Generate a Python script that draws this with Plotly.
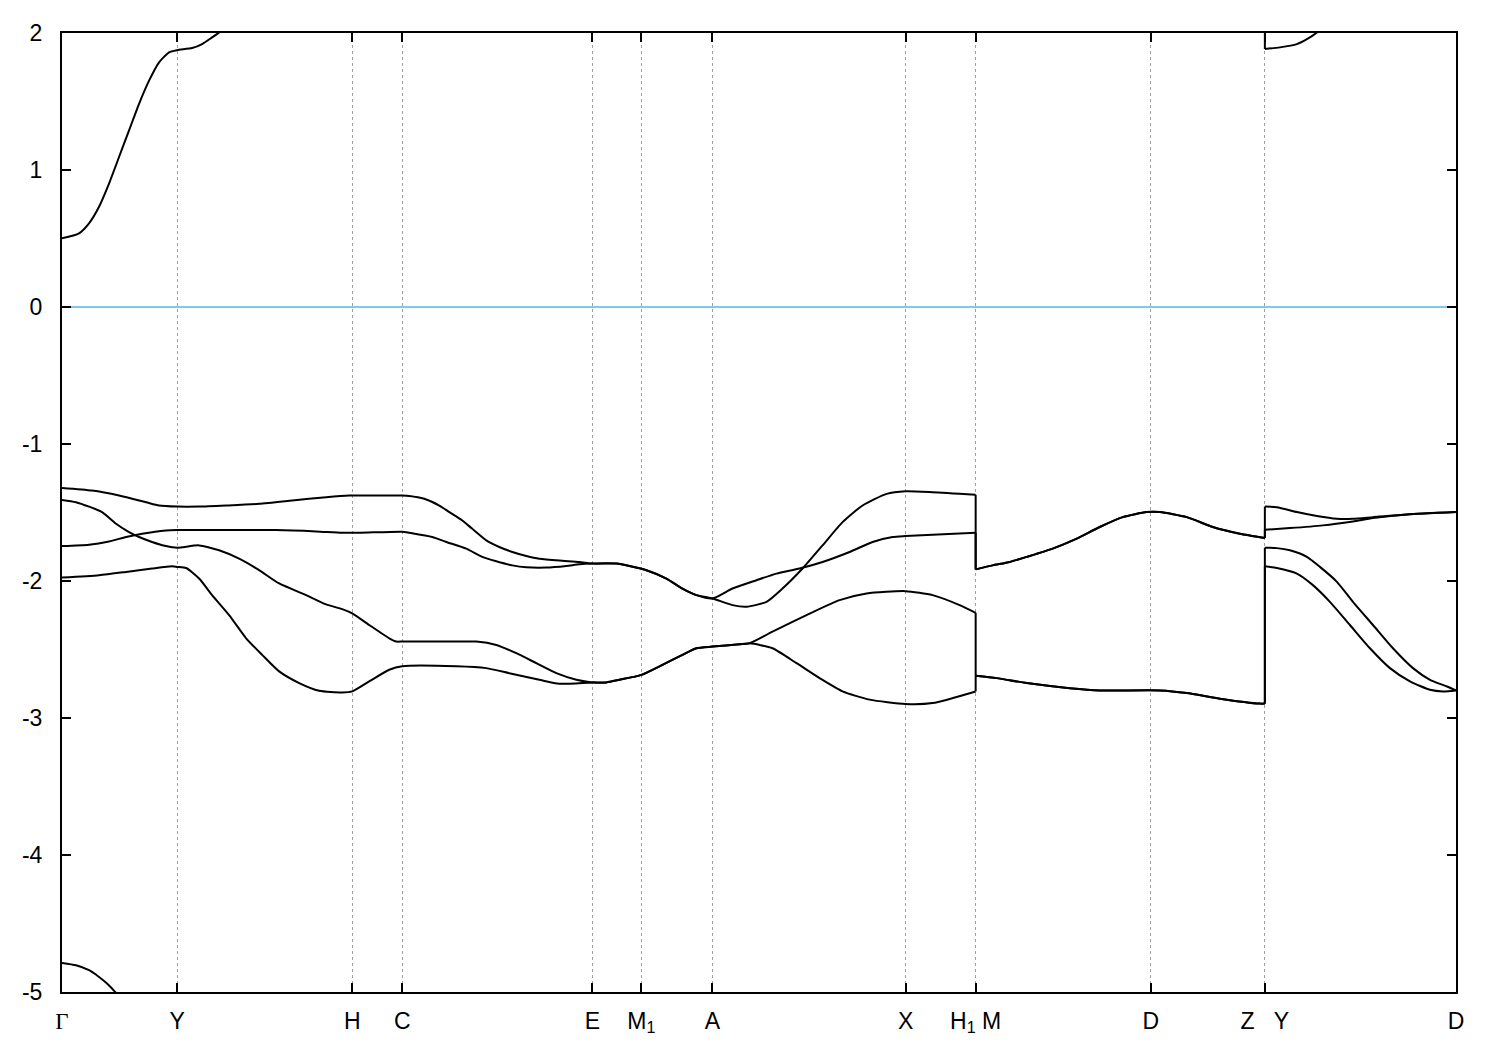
import plotly.graph_objects as go

# High-symmetry points (path coordinate, arbitrary units)
K_TICKS = [0.0, 0.115, 0.290, 0.340, 0.530, 0.579, 0.650, 0.843, 0.913, 1.088, 1.202, 1.393]
TICK_LABELS = ["<span style=\"font-family:'Liberation Serif'\">Γ</span>", "Y", "H", "C", "E",
               "M<sub>1</sub>", "A", "X", "H<sub>1</sub>\u00a0M", "D", "Z\u00a0\u00a0\u00a0Y", "D"]
E_FERMI = 0.0

# Shared pieces
EA_K_UP = [0.554, 0.567, 0.584, 0.604, 0.620, 0.634, 0.650]
EA_E_UP = [-1.873, -1.890, -1.921, -1.982, -2.055, -2.103, -2.128]
EA_K_LO = [0.544, 0.557, 0.579, 0.600, 0.620, 0.634, 0.650, 0.677]
EA_E_LO = [-2.740, -2.721, -2.685, -2.612, -2.539, -2.491, -2.479, -2.462]
MZ_K_UP = [0.913, 0.930, 0.947, 0.964, 0.990, 1.014, 1.037, 1.060, 1.084, 1.097, 1.124, 1.150, 1.177, 1.202]
MZ_E_UP = [-1.915, -1.886, -1.861, -1.824, -1.764, -1.691, -1.606, -1.534, -1.497, -1.497, -1.534, -1.606, -1.655, -1.686]
MZ_K_LO = [0.913, 0.934, 0.964, 1.007, 1.037, 1.097, 1.124, 1.157, 1.197, 1.202]
MZ_E_LO = [-2.692, -2.709, -2.745, -2.782, -2.799, -2.799, -2.818, -2.859, -2.895, -2.895]

# Band 1
B1_K = ([0.0, 0.030, 0.057, 0.084, 0.097, 0.115,
         0.137, 0.164, 0.197, 0.230, 0.264, 0.287, 0.317, 0.340,
         0.347, 0.362, 0.377, 0.387, 0.400, 0.410, 0.424, 0.437, 0.450, 0.464, 0.477, 0.497, 0.517, 0.530]
        + EA_K_UP +
        [0.670, 0.684, 0.704, 0.720, 0.740, 0.760, 0.780, 0.800, 0.824, 0.843, 0.870, 0.913]
        + MZ_K_UP +
        [1.202, 1.214, 1.234, 1.254, 1.274, 1.290, 1.310, 1.344, 1.393])
B1_E = ([-1.321, -1.340, -1.376, -1.425, -1.449, -1.457,
         -1.457, -1.449, -1.437, -1.413, -1.388, -1.376, -1.376, -1.376,
         -1.379, -1.400, -1.449, -1.497, -1.558, -1.619, -1.703, -1.752, -1.788, -1.817, -1.837, -1.851, -1.861, -1.873]
        + EA_E_UP +
        [-2.176, -2.188, -2.152, -2.055, -1.909, -1.740, -1.570, -1.449, -1.364, -1.345, -1.352, -1.371]
        + MZ_E_UP +
        [-1.457, -1.461, -1.497, -1.526, -1.546, -1.546, -1.534, -1.514, -1.497])

# Band 2
B2_K = ([0.0, 0.027, 0.047, 0.064, 0.080, 0.104, 0.115,
         0.167, 0.214, 0.254, 0.280, 0.297, 0.340,
         0.347, 0.370, 0.384, 0.404, 0.420, 0.434, 0.450, 0.464, 0.484, 0.504, 0.517, 0.530]
        + EA_K_UP +
        [0.670, 0.694, 0.714, 0.737, 0.760, 0.787, 0.810, 0.830, 0.843, 0.913]
        + MZ_K_UP +
        [1.202, 1.227, 1.260, 1.290, 1.310, 1.344, 1.393])
B2_E = ([-1.745, -1.735, -1.711, -1.679, -1.655, -1.631, -1.628,
         -1.628, -1.628, -1.638, -1.648, -1.648, -1.640,
         -1.648, -1.679, -1.715, -1.764, -1.824, -1.856, -1.886, -1.900, -1.902, -1.890, -1.878, -1.873]
        + EA_E_UP +
        [-2.055, -1.994, -1.946, -1.909, -1.861, -1.788, -1.715, -1.679, -1.672, -1.648]
        + MZ_E_UP +
        [-1.626, -1.614, -1.594, -1.565, -1.541, -1.514, -1.497])

# Band 3
B3_K = ([0.0, 0.014, 0.040, 0.054, 0.067, 0.077, 0.090, 0.104, 0.115,
         0.137, 0.157, 0.177, 0.197, 0.217, 0.244, 0.264, 0.280, 0.290, 0.307, 0.327, 0.334, 0.340,
         0.387, 0.414, 0.434, 0.454, 0.474, 0.494, 0.514, 0.530]
        + EA_K_LO +
        [0.687, 0.710, 0.744, 0.777, 0.804, 0.843, 0.870, 0.897, 0.913]
        + MZ_K_LO +
        [1.202, 1.214, 1.227, 1.244, 1.257, 1.274, 1.290, 1.310, 1.330, 1.350, 1.367, 1.384, 1.393])
B3_E = ([-1.408, -1.425, -1.497, -1.582, -1.643, -1.679, -1.715, -1.745, -1.757,
         -1.740, -1.776, -1.837, -1.921, -2.018, -2.103, -2.171, -2.205, -2.236, -2.321, -2.418, -2.442, -2.442,
         -2.442, -2.442, -2.467, -2.527, -2.600, -2.673, -2.721, -2.740]
        + EA_E_LO +
        [-2.455, -2.370, -2.249, -2.140, -2.091, -2.074, -2.103, -2.176, -2.232]
        + MZ_E_LO +
        [-1.757, -1.760, -1.776, -1.824, -1.897, -2.006, -2.152, -2.321, -2.491, -2.636, -2.721, -2.770, -2.799])

# Band 4
B4_K = ([0.0, 0.037, 0.064, 0.090, 0.110, 0.115,
         0.124, 0.137, 0.150, 0.167, 0.184, 0.200, 0.217, 0.237, 0.257, 0.280, 0.290, 0.307, 0.327, 0.340,
         0.394, 0.424, 0.447, 0.477, 0.497, 0.530]
        + EA_K_LO +
        [0.687, 0.710, 0.734, 0.757, 0.780, 0.807, 0.843, 0.870, 0.913]
        + MZ_K_LO +
        [1.202, 1.214, 1.234, 1.250, 1.267, 1.287, 1.307, 1.327, 1.347, 1.367, 1.380, 1.393])
B4_E = ([-1.975, -1.958, -1.934, -1.909, -1.893, -1.897,
         -1.905, -1.982, -2.103, -2.249, -2.418, -2.539, -2.660, -2.745, -2.801, -2.813, -2.806, -2.733, -2.648, -2.622,
         -2.622, -2.636, -2.673, -2.721, -2.750, -2.740]
        + EA_E_LO +
        [-2.455, -2.491, -2.600, -2.709, -2.806, -2.866, -2.898, -2.891, -2.806]
        + MZ_E_LO +
        [-1.893, -1.905, -1.946, -2.030, -2.152, -2.321, -2.491, -2.636, -2.733, -2.794, -2.806, -2.799])

# Conduction band (visible parts)
CB_K = [0.0, 0.017, 0.027, 0.037, 0.047, 0.057, 0.067, 0.077, 0.087, 0.097, 0.107, 0.115,
        0.130, 0.140, 0.150, 0.157, 0.172,
        1.202, 1.202, 1.217, 1.234, 1.244, 1.254, 1.267]
CB_E = [0.502, 0.538, 0.611, 0.732, 0.901, 1.095, 1.289, 1.483, 1.652, 1.786, 1.859, 1.875,
        1.890, 1.919, 1.968, 2.004, 2.100,
        2.300, 1.883, 1.895, 1.919, 1.955, 2.004, 2.100]

# Deep band near Gamma
DB_K = [0.0, 0.014, 0.027, 0.037, 0.045, 0.053, 0.062]
DB_E = [-4.788, -4.805, -4.841, -4.890, -4.938, -4.999, -5.080]

LINE = dict(color="black", width=2)


def split_pieces(ks, es):
    """Split a band at path discontinuities (repeated k): smooth pieces + vertical jumps."""
    pieces, jumps = [], []
    cur_k, cur_e = [ks[0]], [es[0]]
    for i in range(1, len(ks)):
        if ks[i] == ks[i - 1]:
            pieces.append((cur_k, cur_e))
            jumps.append(([ks[i - 1], ks[i]], [es[i - 1], es[i]]))
            cur_k, cur_e = [ks[i]], [es[i]]
        else:
            cur_k.append(ks[i])
            cur_e.append(es[i])
    pieces.append((cur_k, cur_e))
    return pieces, jumps


fig = go.Figure()
fig.add_trace(go.Scatter(x=[K_TICKS[0], K_TICKS[-1]], y=[E_FERMI, E_FERMI], mode="lines",
                         line=dict(color="#56B4E9", width=1.5), showlegend=False, hoverinfo="skip"))

for kk, ee in [(CB_K, CB_E), (DB_K, DB_E), (B1_K, B1_E), (B2_K, B2_E), (B3_K, B3_E), (B4_K, B4_E)]:
    pieces, jumps = split_pieces(kk, ee)
    for pk, pe in pieces:
        if len(pk) < 2:
            continue
        fig.add_trace(go.Scatter(x=pk, y=pe, mode="lines",
                                 line=dict(LINE, shape="spline", smoothing=0.6),
                                 showlegend=False))
    for jk, je in jumps:
        fig.add_trace(go.Scatter(x=jk, y=je, mode="lines", line=LINE, showlegend=False))

font = dict(family="Liberation Sans, Arial, sans-serif", size=23, color="black")
fig.update_layout(
    width=1500, height=1050,
    margin=dict(l=54, r=52, t=19, b=66),
    paper_bgcolor="white", plot_bgcolor="white",
    font=font, showlegend=False,
    xaxis=dict(range=[K_TICKS[0], K_TICKS[-1]], tickvals=K_TICKS, ticktext=TICK_LABELS,
               ticks="inside", ticklen=9, tickwidth=2, tickcolor="black",
               showline=True, linewidth=2, linecolor="black", mirror="ticks",
               showgrid=True, gridcolor="#a0a0a0", gridwidth=1, griddash="3px,3px",
               zeroline=False, ticklabelstandoff=7, tickfont=font),
    yaxis=dict(range=[-5, 2], tickvals=[-5, -4, -3, -2, -1, 0, 1, 2],
               ticktext=["-5", "-4", "-3", "-2", "-1", "0", "1", "2"],
               ticks="inside", ticklen=9, tickwidth=2, tickcolor="black",
               showline=True, linewidth=2, linecolor="black", mirror="ticks",
               showgrid=False, zeroline=False, ticklabelstandoff=13, tickfont=font),
)
fig.write_html("out.html")
